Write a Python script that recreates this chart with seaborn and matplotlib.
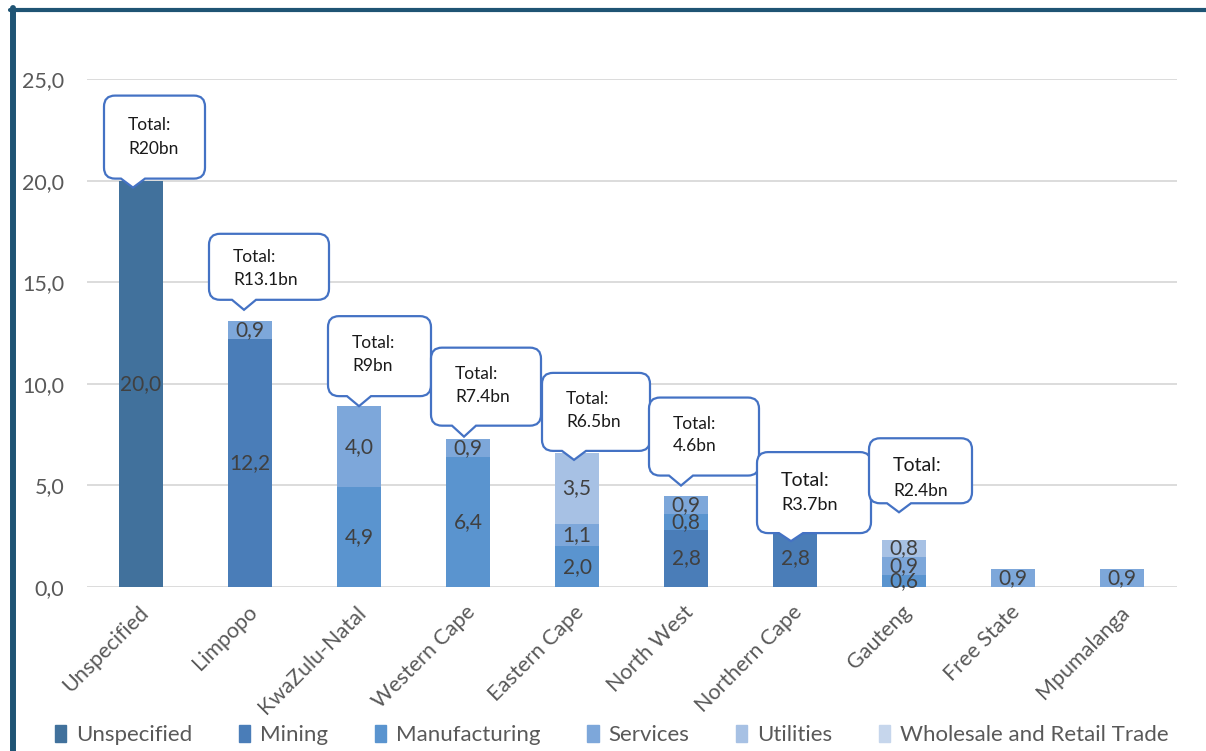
import numpy as np
import pandas as pd
import matplotlib
matplotlib.use("Agg")
import matplotlib.pyplot as plt
import seaborn as sns
from matplotlib.path import Path
from matplotlib.patches import PathPatch, Rectangle
from matplotlib.transforms import IdentityTransform, ScaledTranslation
from matplotlib.lines import Line2D

# ---------------- data ----------------
provinces = ["Unspecified", "Limpopo", "KwaZulu-Natal", "Western Cape", "Eastern Cape",
             "North West", "Northern Cape", "Gauteng", "Free State", "Mpumalanga"]
sectors = ["Unspecified", "Mining", "Manufacturing", "Services", "Utilities",
           "Wholesale and Retail Trade"]
unspecified = [20.0, 0, 0, 0, 0, 0, 0, 0, 0, 0]
mining = [0, 12.2, 0, 0, 0, 2.8, 2.8, 0, 0, 0]
manufacturing = [0, 0, 4.9, 6.4, 2.0, 0.8, 0, 0.6, 0, 0]
services = [0, 0.9, 4.0, 0.9, 1.1, 0.9, 0, 0.9, 0.9, 0.9]
utilities = [0, 0, 0, 0, 3.5, 0, 0, 0.8, 0, 0]
wholesale = [0, 0, 0, 0, 0, 0, 0, 0, 0, 0]
total_labels = ["R20bn", "R13.1bn", "R9bn", "R7.4bn", "R6.5bn", "4.6bn", "R3.7bn", "R2.4bn", None, None]
yticks = [0, 5, 10, 15, 20, 25]

colors = ["#41719C", "#4A7DB8", "#5A94CF", "#7DA7DA", "#A7C1E4", "#C6D6EC"]

# callout layout (pixels): tip dx, tip dy, box left from tip, width, gap, height, line offsets, font sizes
callout_style = [
    (-8, -7, -29, 101, 9, 83, 29, 53, 12.5, 12.5),
    (-6, 11, -35, 120, 10, 66, 23, 46, 12.5, 12.5),
    (0, 0, -31, 103, 10, 80, 27, 50, 12.5, 12.5),
    (-4, 2, -33, 110, 11, 78, 26, 49, 12.5, 12.5),
    (-3, -7, -32, 108, 9, 78, 26, 49, 12.5, 12.5),
    (-5, 10, -32, 110, 10, 78, 26, 48, 12.5, 12.5),
    (-4, -11, -34, 114, 8, 81, 28, 53, 14, 13),
    (-5, 28, -30, 103, 9, 65, 27, 53, 14, 12.5),
]

sns.set_style("white")
plt.rcParams["font.family"] = ["Lato", "DejaVu Sans"]

W, H = 1206, 751
fig = plt.figure(figsize=(W / 100, H / 100), dpi=100)
ax = fig.add_axes([86.5 / W, 1 - 587 / H, (1176.5 - 86.5) / W, (587 - 79) / H])

layers = np.array([unspecified, mining, manufacturing, services, utilities, wholesale], dtype=float)
cum = np.cumsum(layers, axis=0)
for i in reversed(range(len(sectors))):
    df = pd.DataFrame({"province": provinces, "value": cum[i]})
    sns.barplot(data=df, x="province", y="value", order=provinces, color=colors[i],
                saturation=1, width=0.4, linewidth=0, ax=ax, zorder=2)

ax.set_xlim(-0.5, len(provinces) - 0.5)
ax.set_ylim(0, 25)
ax.set_yticks(yticks)
ax.set_yticklabels([f"{v:.1f}".replace(".", ",") for v in yticks], fontsize=15.5, color="#595959")
ax.set_xlabel("")
ax.set_ylabel("")
ax.yaxis.grid(True, color="#D9D9D9", linewidth=1.3)
ax.set_axisbelow(True)
for s in ax.spines.values():
    s.set_visible(False)
ax.tick_params(axis="y", length=0, pad=16)
ax.tick_params(axis="x", length=0, pad=16)
ax.set_xticks(range(len(provinces)))
ax.set_xticklabels(provinces, fontsize=15.5, color="#595959", rotation=45,
                   ha="right", va="center", rotation_mode="anchor")
shift = ScaledTranslation(3 / 72, 0, fig.dpi_scale_trans)
for lbl in ax.get_xticklabels():
    lbl.set_transform(lbl.get_transform() + shift)

# value labels
for i in range(len(sectors)):
    for j, v in enumerate(layers[i]):
        if v > 0:
            bottom = cum[i][j] - v
            ax.text(j, bottom + v / 2, f"{v:.1f}".replace(".", ","), ha="center", va="center",
                    fontsize=15, color="#404040", zorder=4)

# callouts
totals = cum[-1]
ident = IdentityTransform()
r = 11
for j, lab in enumerate(total_labels):
    if lab is None:
        continue
    tdx, tdy, bl, w, gap, h, l1, l2, fs1, fs2 = callout_style[j]
    cx, cy = ax.transData.transform((j, totals[j]))
    tx, ty = cx + tdx, cy + tdy
    L = tx + bl
    R = L + w
    B = ty + gap
    T = B + h
    verts = [(L + r, B), (tx - 12, B), (tx, ty), (tx + 12, B), (R - r, B),
             (R, B), (R, B + r), (R, T - r), (R, T), (R - r, T), (L + r, T),
             (L, T), (L, T - r), (L, B + r), (L, B), (L + r, B), (L + r, B)]
    codes = [Path.MOVETO, Path.LINETO, Path.LINETO, Path.LINETO, Path.LINETO,
             Path.CURVE3, Path.CURVE3, Path.LINETO, Path.CURVE3, Path.CURVE3, Path.LINETO,
             Path.CURVE3, Path.CURVE3, Path.LINETO, Path.CURVE3, Path.CURVE3, Path.CLOSEPOLY]
    patch = PathPatch(Path(verts, codes), transform=ident, facecolor="white",
                      edgecolor="#4472C4", linewidth=1.6, zorder=5)
    fig.add_artist(patch)
    fig.text(L + 24, T - l1, "Total:", transform=ident, fontsize=fs1, color="#1a1a1a",
             ha="left", va="center", zorder=6)
    fig.text(L + 24, T - l2, lab, transform=ident, fontsize=fs2, color="#1a1a1a",
             ha="left", va="center", zorder=6)

# legend
handles = [Rectangle((0, 0), 1, 1, color=c) for c in colors]
fig.legend(handles, sectors, loc="center", bbox_to_anchor=(612 / W, 1 - 735 / H), ncol=6,
           frameon=False, fontsize=16, handlelength=0.5, handleheight=0.8,
           handletextpad=0.45, columnspacing=2.1, labelcolor="#595959")

# frame lines
fig.add_artist(Line2D([10 / W, 1], [1 - 10 / H, 1 - 10 / H], transform=fig.transFigure,
                      color="#1F5474", linewidth=3))
fig.add_artist(Line2D([13 / W, 13 / W], [0, 1 - 8 / H], transform=fig.transFigure,
                      color="#1F5474", linewidth=4.3))

fig.savefig("out.png", dpi=100)
